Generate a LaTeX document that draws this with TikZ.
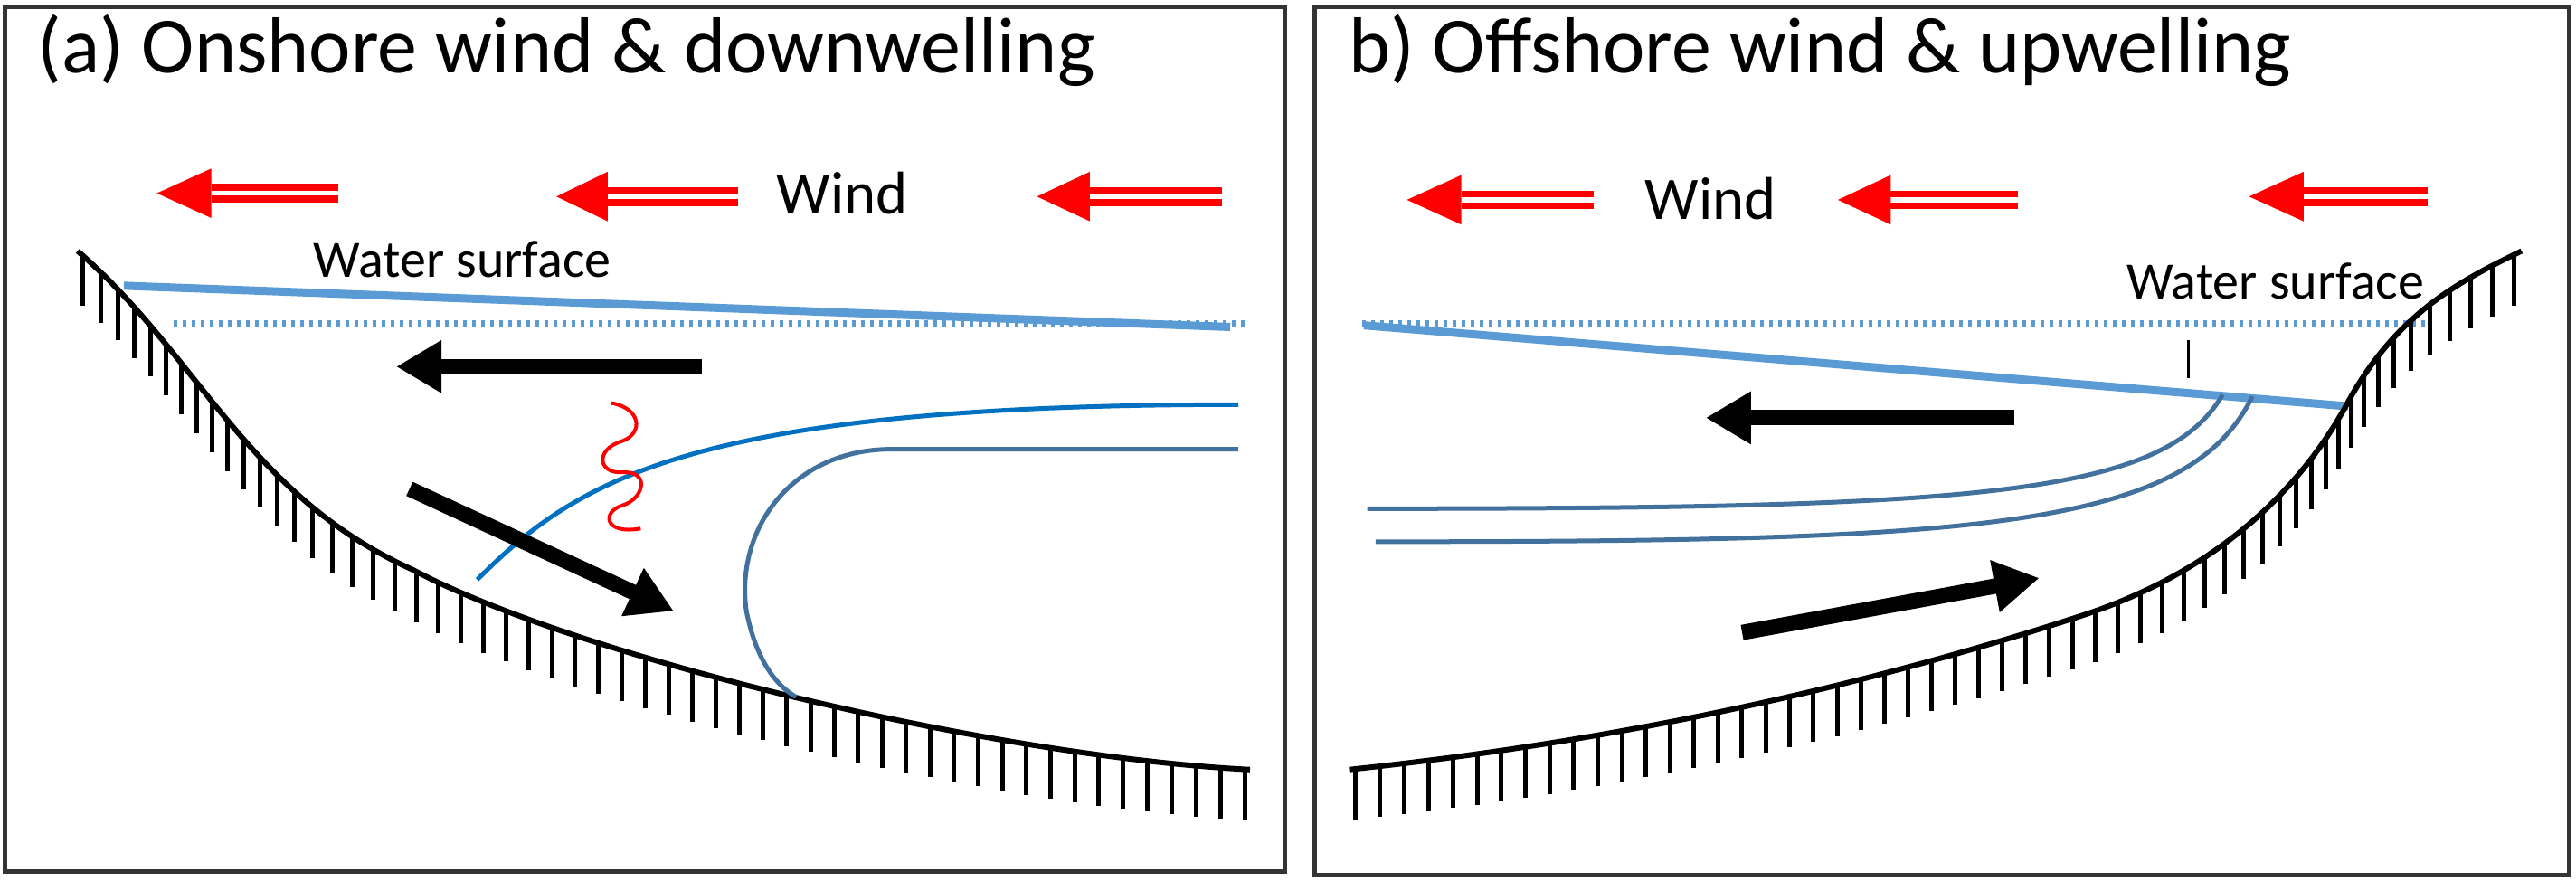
\documentclass[tikz,border=0pt]{standalone}
\usepackage{fontspec}
\setmainfont{Carlito}
\usetikzlibrary{arrows.meta,decorations.markings}
\definecolor{wsurf}{HTML}{5B9BD5}
\definecolor{ctour}{HTML}{0070C0}
\definecolor{steel}{HTML}{41719C}
\newcommand{\windarr}[4]{%
  \draw[red,line width=0.075cm,double=white,double distance=0.055cm] (#2,#4)--(#3,#4);
  \fill[red] (#1,#4)--(#2,#4-15)--(#2,#4+15)--cycle;}
\tikzset{
  seabed/.style={line width=0.06cm,postaction={decorate},decoration={markings,
    mark=between positions 0.005 and 1 step 0.27cm with {\pgftransformresetnontranslations
      \draw[line width=0.05cm] (0,0)--(0,-0.56cm);}}},
  bigarr/.style={line width=0.17cm,-{Triangle[length=0.5cm,width=0.55cm]}},
  surf/.style={wsurf,line width=0.09cm},
  dots/.style={wsurf,line width=0.07cm,dash pattern=on 0.04cm off 0.06cm},
  frame/.style={line width=0.05cm,draw=black!80},
}
\begin{document}
\begin{tikzpicture}[x=0.018256cm,y=-0.018256cm]
\useasboundingbox (0,0) rectangle (1560,539);
% frames
\draw[frame] (3,4) rectangle (778,528);
\draw[frame] (796,4) rectangle (1556,530);
% titles
\node[anchor=base west,font=\fontsize{25}{28}\selectfont] (ta) at (16,44) {(a) Onshore wind \& downwelling};
\node[anchor=base west,font=\fontsize{25}{28}\selectfont] (tb) at (810,44) {b) Offshore wind \& upwelling};
% wind arrows a
\windarr{95}{128}{205}{117}
\windarr{337}{368}{447}{119}
\windarr{628}{660}{740}{119}
\node[font=\fontsize{19}{21}\selectfont] (wa) at (510,117) {Wind};
% wind arrows b
\windarr{852}{885}{965}{121}
\windarr{1113}{1145}{1222}{121}
\windarr{1362}{1395}{1470}{119}
\node[font=\fontsize{19}{21}\selectfont] (wb) at (1036,120) {Wind};
% panel a
\draw[dots] (105,196)--(755,196);
\draw[surf] (75,173)--(745,198);
\node[font=\fontsize{16.5}{19}\selectfont] (wsa) at (280,157) {Water surface};
\draw[seabed] (47,152) .. controls (120,215) and (150,300) .. (250,345)
  .. controls (350,398) and (600,458) .. (757,466);
\draw[ctour,line width=0.05cm] (289,351) .. controls (350,290) and (420,245) .. (750,245);
\draw[steel,line width=0.05cm] (750,272) -- (540,272) .. controls (480,272) and (445,320) .. (452,370)
  .. controls (458,400) and (470,415) .. (482,422);
\draw[red,line width=0.04cm] (370,244) .. controls (388,247) and (390,262) .. (377,267)
  .. controls (360,272) and (362,287) .. (377,286)
  .. controls (394,285) and (390,302) .. (377,306)
  .. controls (364,310) and (366,324) .. (388,320);
\draw[bigarr] (425,222) -- (240,222);
\draw[bigarr] (248,296) -- (408,370);
% panel b
\draw[dots] (825,196)--(1470,196);
\draw[surf] (826,197)--(1422,246);
\node[font=\fontsize{16.5}{19}\selectfont] (wsb) at (1378,170) {Water surface};
\draw[line width=0.03cm] (1325,206)--(1325,229);
\draw[seabed] (817,466) .. controls (950,452) and (1100,425) .. (1260,373)
  .. controls (1340,347) and (1390,300) .. (1420,247)
  .. controls (1450,190) and (1490,170) .. (1527,152);
\draw[steel,line width=0.05cm] (1346,239) .. controls (1310,300) and (1200,308) .. (828,308);
\draw[steel,line width=0.05cm] (1364,240) .. controls (1325,320) and (1200,328) .. (833,328);
\draw[bigarr] (1220,253) -- (1033,253);
\draw[bigarr] (1055,383) -- (1235,350);
\end{tikzpicture}
\end{document}
